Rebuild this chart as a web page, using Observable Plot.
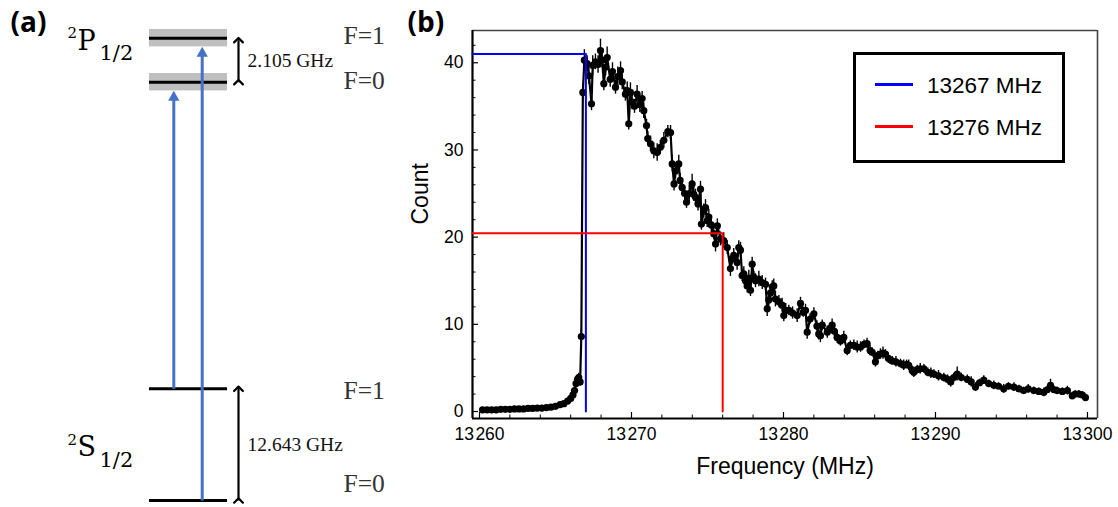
<!DOCTYPE html>
<html><head><meta charset="utf-8">
<script src="https://cdn.jsdelivr.net/npm/d3@7"></script>
<script src="https://cdn.jsdelivr.net/npm/@observablehq/plot@0.6"></script>
<style>
html,body{margin:0;padding:0;background:#fff;}
#wrap{position:relative;width:1118px;height:507px;overflow:hidden;background:#fff;}
#panelA{position:absolute;left:0;top:0;}
#panelB{position:absolute;left:400px;top:0;}
#legend{position:absolute;left:853px;top:52px;width:212px;height:111px;box-sizing:border-box;border:3.3px solid #000;background:#fff;}
#legend svg{display:block;}
</style></head><body>
<div id="wrap"><div id="panelA"></div><div id="panelB"></div><div id="legend"></div></div>
<script>
// ---------- Panel (b) data ----------
const freq = [
  // baseline
  13260.2, 13260.5, 13260.8, 13261.1, 13261.4, 13261.7, 13262.0, 13262.3, 13262.6, 13262.9, 13263.2, 13263.5, 13263.8, 13264.1, 13264.4, 13264.7, 13265.0,
  // rise
  13265.3, 13265.55, 13265.8, 13266.0, 13266.15, 13266.25, 13266.35, 13266.45, 13266.53, 13266.62, 13266.7, 13266.8,
  // peak
  13266.9, 13267.08, 13267.2, 13267.37, 13267.45, 13267.63, 13267.8, 13267.96, 13268.07, 13268.18,
  13268.3, 13268.4, 13268.6, 13268.75, 13268.95, 13269.1, 13269.28, 13269.39, 13269.6, 13269.72,
  13269.82, 13269.93, 13270.04, 13270.2, 13270.37, 13270.55, 13270.7, 13270.81, 13270.99,
  // descent
  13271.07, 13271.25, 13271.47, 13271.69, 13271.9, 13272.13, 13272.39, 13272.57, 13272.68, 13272.8,
  13272.9, 13273.11, 13273.2, 13273.33, 13273.5, 13273.62, 13273.8, 13273.99, 13274.1, 13274.21,
  13274.38, 13274.54, 13274.6, 13274.76, 13274.87, 13274.98, 13275.09, 13275.25, 13275.41, 13275.53,
  13275.65, 13275.86, 13276.07, 13276.3, 13276.51, 13276.62, 13276.73, 13276.95, 13277.06, 13277.17,
  // mid
  13277.28, 13277.39, 13277.5, 13277.61, 13277.72, 13277.83, 13277.94, 13278.05, 13278.16, 13278.38,
  13278.6, 13278.82, 13278.93, 13279.03, 13279.15, 13279.26, 13279.36, 13279.47, 13279.7, 13279.91,
  13280.02, 13280.15, 13280.35, 13280.6, 13280.9, 13281.12, 13281.3, 13281.45, 13281.56, 13281.75,
  13282.0, 13282.2, 13282.32, 13282.43, 13282.55, 13282.88, 13283.05, 13283.2, 13283.35, 13283.53,
  // tail
  13283.75, 13283.97, 13284.19, 13284.4, 13284.63, 13284.85, 13285.07, 13285.3, 13285.5, 13285.7,
  13285.84, 13286.05, 13286.2, 13286.38, 13286.55, 13286.71, 13286.9, 13287.15, 13287.4, 13287.7,
  13287.91, 13288.1, 13288.24, 13288.47, 13288.57, 13288.8, 13289.0, 13289.24, 13289.5, 13289.7,
  13289.9, 13290.2, 13290.55, 13290.8, 13291.0, 13291.2, 13291.43, 13291.7, 13292.09, 13292.35,
  // end
  13292.63, 13292.9, 13293.18, 13293.5, 13293.84, 13294.15, 13294.49, 13294.8, 13295.16, 13295.5,
  13295.8, 13296.1, 13296.47, 13296.8, 13297.13, 13297.35, 13297.57, 13297.8, 13298.0, 13298.35,
  13298.68, 13299.0, 13299.2, 13299.43, 13299.65, 13299.87
];
const count = [
  0.2, 0.2, 0.2, 0.2, 0.25, 0.25, 0.25, 0.3, 0.3, 0.3, 0.35, 0.35, 0.4, 0.4, 0.45, 0.5, 0.6,
  0.8, 0.9, 1.2, 1.5, 1.9, 2.4, 3.2, 3.7, 3.9, 3.4, 8.6, 36.6,
  40.3, 39.9, 38.5, 35.3, 39.7, 40.1, 39.8, 41.4, 40.3, 37.6,
  39.5, 40.6, 38.1, 39.0, 37.2, 38.4, 39.1, 37.8, 36.4, 36.8,
  33.0, 36.6, 35.5, 35.0, 36.4, 35.2, 35.9, 34.5, 32.8,
  31.3, 30.7, 29.9, 29.7, 30.3, 31.1, 32.1, 32.0, 28.4, 26.1,
  27.6, 28.4, 26.5, 25.7, 25.0, 24.0, 25.0, 26.1, 24.9, 24.6,
  23.8, 25.5, 21.5, 23.0, 23.4, 21.9, 22.3, 21.4, 20.4, 19.2,
  21.3, 19.8, 19.6, 18.8, 16.4, 17.5, 17.9, 17.1, 18.8, 18.5,
  15.6, 15.8, 15.0, 14.4, 15.3, 13.9, 16.9, 15.4, 15.0, 15.2,
  14.8, 14.6, 11.8, 12.8, 13.6, 14.3, 14.4, 12.9, 12.6, 12.2,
  11.0, 11.6, 11.6, 11.3, 11.0, 12.4, 11.4, 11.6, 9.1, 10.6,
  11.2, 9.8, 8.9, 8.7, 9.9, 9.1, 9.5, 9.9, 9.2, 8.5,
  8.1, 8.5, 7.0, 7.6, 7.6, 7.4, 7.4, 7.7, 7.8, 7.0,
  6.8, 5.7, 6.4, 6.6, 6.7, 6.6, 6.1, 5.8, 5.7, 5.5,
  5.3, 5.4, 5.3, 4.7, 4.5, 4.8, 4.9, 4.9, 4.5, 4.4,
  4.3, 4.1, 3.9, 3.7, 3.4, 3.9, 4.3, 3.9, 3.7, 3.4,
  2.8, 3.3, 3.6, 3.2, 3.0, 2.9, 2.6, 2.9, 2.8, 2.6,
  2.4, 2.6, 2.4, 2.3, 2.2, 2.5, 3.0, 2.5, 2.4, 2.3,
  2.4, 1.8, 2.0, 2.0, 1.9, 1.6
];
const err = [
  0.1, 0.1, 0.1, 0.1, 0.1, 0.1, 0.1, 0.1, 0.1, 0.1, 0.1, 0.1, 0.1, 0.1, 0.1, 0.1, 0.1,
  0.2, 0.2, 0.3, 0.3, 0.3, 0.4, 0.4, 0.5, 0.5, 0.5, 0.8, 1.0,
  1.2, 0.9, 1.0, 0.8, 1.1, 0.9, 1.0, 1.3, 0.9, 0.8,
  1.0, 1.2, 0.9, 1.0, 0.8, 1.1, 1.0, 0.9, 0.8, 1.0,
  0.7, 1.1, 0.9, 0.8, 1.0, 0.9, 0.8, 0.9, 0.7,
  0.8, 0.9, 0.9, 1.0, 0.8, 0.9, 0.7, 0.8, 0.9, 0.8,
  0.9, 1.0, 0.8, 0.9, 0.8, 0.7, 0.9, 1.1, 0.8, 0.9,
  0.8, 0.9, 0.7, 0.8, 0.9, 0.8, 0.9, 0.8, 0.7, 0.9,
  0.8, 0.8, 0.9, 0.8, 0.9, 0.7, 0.8, 0.9, 0.8, 0.9,
  0.7, 0.8, 0.7, 0.8, 0.9, 0.7, 0.8, 0.7, 0.8, 0.9,
  0.8, 0.7, 0.9, 0.7, 0.8, 0.7, 0.8, 0.9, 0.7, 0.8,
  0.7, 0.8, 0.6, 0.7, 0.8, 0.7, 0.6, 0.7, 0.8, 0.6,
  0.7, 0.6, 0.7, 0.8, 0.6, 0.7, 0.6, 0.7, 0.6, 0.7,
  0.6, 0.7, 0.6, 0.5, 0.6, 0.7, 0.6, 0.5, 0.6, 0.6,
  0.5, 0.6, 0.5, 0.6, 0.7, 0.5, 0.6, 0.5, 0.6, 0.5,
  0.6, 0.5, 0.6, 0.5, 0.6, 0.5, 0.6, 0.5, 0.5, 0.6,
  0.5, 0.6, 0.5, 0.5, 0.6, 0.5, 0.8, 0.5, 0.5, 0.6,
  0.5, 0.4, 0.5, 0.4, 0.5, 0.4, 0.5, 0.4, 0.5, 0.4,
  0.4, 0.5, 0.4, 0.4, 0.5, 0.4, 0.7, 0.4, 0.4, 0.4,
  0.5, 0.4, 0.4, 0.4, 0.4, 0.4
];
const markerFreq = [13267, 13276];
const markerCount = [41, 20.45];
const markerLabel = ["13267 MHz", "13276 MHz"];
const xMajor = [13260, 13270, 13280, 13290, 13300];
const yMajor = [0, 10, 20, 30, 40];

// ---------- Panel (a) data ----------
const levelTerm = ["S", "S", "P", "P"];
const levelF = ["F=0", "F=1", "F=0", "F=1"];
const levelPos = [0, 1, 3.745, 4.139];   // schematic level heights (not to scale)
const splitLabel = ["12.643 GHz", "2.105 GHz"];
const termName = ["S", "P"];
const termSup = ["2", "2"];
const termSub = ["1/2", "1/2"];
const transFrom = [1, 0];   // S F=1 -> P F=0, S F=0 -> P F=1
const transTo = [2, 3];

// ---------- styles / layout ----------
const markerColor = ["#0000ff", "#ff0000"];
const arrowBlue = "#4472c4";

// ===== Panel (b) =====
const W_B = 718, H_B = 507, mL = 72, mR = 21, mT = 30, mB = 89;
const innerW = W_B - mL - mR, innerH = H_B - mT - mB;
const xDom = [13259.54, 13300.66];
const yDom = [-0.8, 43.7];
const pts = freq.map((f, i) => ({f, c: count[i], e: err[i] ?? 0}));
const xMinor = d3.range(13260, 13301, 2).filter(v => !xMajor.includes(v));
const yMinor = d3.range(0, 43, 2).filter(v => !yMajor.includes(v));

const markerMarks = markerFreq.map((f, i) =>
  Plot.line([[xDom[0], markerCount[i]], [f, markerCount[i]], [f, 0]], {stroke: markerColor[i], strokeWidth: 2}));

const plotB = Plot.plot({
  width: W_B, height: H_B,
  marginLeft: mL, marginRight: mR, marginTop: mT, marginBottom: mB,
  x: {domain: xDom}, y: {domain: yDom},
  style: {fontFamily: "'Liberation Sans', Arial, sans-serif", background: "transparent", color: "#000", overflow: "visible"},
  marks: [
    Plot.ruleY([yDom[1]], {stroke: "#444", strokeWidth: 1.6}),
    Plot.ruleX([xDom[1]], {stroke: "#444", strokeWidth: 1.6}),
    Plot.tickX(xMinor, {insetTop: innerH - 3.5, stroke: "#000", strokeWidth: 1}),
    Plot.tickX(xMajor, {insetTop: innerH - 6, stroke: "#000", strokeWidth: 1.2}),
    Plot.tickY(yMinor, {insetRight: innerW - 3.5, stroke: "#000", strokeWidth: 1}),
    Plot.tickY(yMajor, {insetRight: innerW - 6, stroke: "#000", strokeWidth: 1.2}),
    Plot.axisX({ticks: xMajor, tickSize: 0, tickPadding: 9, tickFormat: d => String(d), fontSize: 17.5, label: null}),
    Plot.axisY({ticks: yMajor, tickSize: 0, tickPadding: 9, fontSize: 17.5, label: null}),
    Plot.ruleX([xDom[0]], {stroke: "#000", strokeWidth: 2.2}),
    Plot.ruleY([yDom[0]], {stroke: "#000", strokeWidth: 2.2}),
    Plot.ruleX(pts, {x: "f", y1: d => d.c - d.e, y2: d => d.c + d.e, stroke: "#000", strokeWidth: 1.4}),
    Plot.line(pts, {x: "f", y: "c", stroke: "#000", strokeWidth: 2.2}),
    Plot.dot(pts, {x: "f", y: "c", r: 3.6, fill: "#000"}),
    ...markerMarks,
    Plot.text(["Frequency (MHz)"], {frameAnchor: "bottom", dy: 55, fontSize: 23, fill: "#000"}),
    Plot.text(["Count"], {frameAnchor: "left", dx: -52, rotate: -90, fontSize: 23, fill: "#000"}),
    Plot.text(["(b)"], {frameAnchor: "top-left", dx: -65, dy: 1, lineAnchor: "bottom", textAnchor: "start",
      fontSize: 28, fontWeight: 700, fontFamily: "'Open Sans', sans-serif", fill: "#000"})
  ]
});
// digit grouping gap as in the original ("13 260"), done with a small tspan offset
d3.select(plotB).selectAll("[aria-label='x-axis tick label'] text").each(function () {
  const s = this.textContent;
  const t = d3.select(this);
  t.text(null);
  t.append("tspan").text(s.slice(0, 2));
  t.append("tspan").attr("dx", 1.5).text(s.slice(2));
});
document.getElementById("panelB").appendChild(plotB);

// legend
const lg = d3.select("#legend").append("svg").attr("width", 206).attr("height", 105);
markerLabel.forEach((lab, i) => {
  const cy = 29.5 + i * 42;
  lg.append("line").attr("x1", 19).attr("x2", 57).attr("y1", cy).attr("y2", cy)
    .attr("stroke", markerColor[i]).attr("stroke-width", 3);
  lg.append("text").attr("x", 71).attr("y", cy).attr("dy", "0.36em").text(lab)
    .attr("font-family", "'Liberation Sans', Arial, sans-serif").attr("font-size", 22.5).attr("fill", "#000");
});

// ===== Panel (a) =====
const W_A = 400, H_A = 507;
const basePx = 500, unitPx = 111.7;
const yA = [-(H_A - basePx) / unitPx, basePx / unitPx];
const levelX = [149, 227];
const transX = [173.3, 201.7];
const splitX = 238, splitLabelX = 247, fLabelX = 343;
const termX = 77, supX = 67, subX = 99;
const fShiftPx = [-17, 2, -1, -2];
const bandHalf = 8.7 / unitPx;
const termFont = "'DejaVu Serif', serif";

const levels = levelPos.map((p, i) => ({term: levelTerm[i], F: levelF[i], pos: p, shift: fShiftPx[i]}));
const trans = transFrom.map((a, i) => ({x: transX[i], y1: levelPos[a], y2: levelPos[transTo[i]] - bandHalf}));
const splits = [
  {lo: levelPos[0], hi: levelPos[1], label: splitLabel[0]},
  {lo: levelPos[2], hi: levelPos[3] - 2 / unitPx, label: splitLabel[1]}
];
const terms = termName.map((n, i) => ({
  name: n, sup: termSup[i], sub: termSub[i],
  pos: n === "S" ? d3.mean(levels.filter(d => d.term === "S"), d => d.pos) : d3.max(levels.filter(d => d.term === "P"), d => d.pos)
}));

const plotA = Plot.plot({
  width: W_A, height: H_A, margin: 0,
  x: {domain: [0, W_A], axis: null}, y: {domain: yA, axis: null},
  style: {fontFamily: "'Liberation Serif', 'Times New Roman', serif", background: "transparent", overflow: "visible"},
  marks: [
    Plot.rect(levels.filter(d => d.term === "P"), {x1: levelX[0], x2: levelX[1], y1: d => d.pos - bandHalf, y2: d => d.pos + bandHalf, fill: "#bfbfbf"}),
    Plot.ruleY(levels, {y: "pos", x1: levelX[0], x2: levelX[1], stroke: "#000", strokeWidth: 3}),
    Plot.link(trans, {x1: "x", x2: "x", y1: "y1", y2: d => d.y2 - 5 / unitPx, stroke: arrowBlue, strokeWidth: 3}),
    Plot.dot(trans, {x: "x", y: "y2", symbol: "triangle", r: 4.2, fill: arrowBlue, stroke: null, dy: 6.5}),
    Plot.link(splits, {x1: splitX, x2: splitX, y1: "lo", y2: "hi", markerStart: "arrow", markerEnd: "arrow", stroke: "#000", strokeWidth: 2.2}),
    Plot.text(splits, {x: splitLabelX, y: d => (d.lo + d.hi) / 2, text: "label", textAnchor: "start", fontSize: 19.5, fill: "#111"}),
    Plot.text(levels, {x: fLabelX, y: d => d.pos - d.shift / unitPx, text: "F", textAnchor: "start", fontSize: 25.5, fill: "#333"}),
    Plot.text(terms, {x: termX, y: "pos", text: "name", dy: 3, textAnchor: "start", fontSize: 27, fill: "#000", fontFamily: termFont}),
    Plot.text(terms, {x: supX, y: "pos", text: "sup", dy: -4.5, textAnchor: "start", fontSize: 15, fill: "#000", fontFamily: termFont}),
    Plot.text(terms, {x: subX, y: "pos", text: "sub", dy: 15.5, textAnchor: "start", fontSize: 21, fill: "#000", fontFamily: termFont}),
    Plot.text(["(a)"], {frameAnchor: "top-left", dx: 10, dy: 31, lineAnchor: "bottom", textAnchor: "start",
      fontSize: 28, fontWeight: 700, fontFamily: "'Open Sans', sans-serif", fill: "#000"})
  ]
});
document.getElementById("panelA").appendChild(plotA);
</script></body></html>
